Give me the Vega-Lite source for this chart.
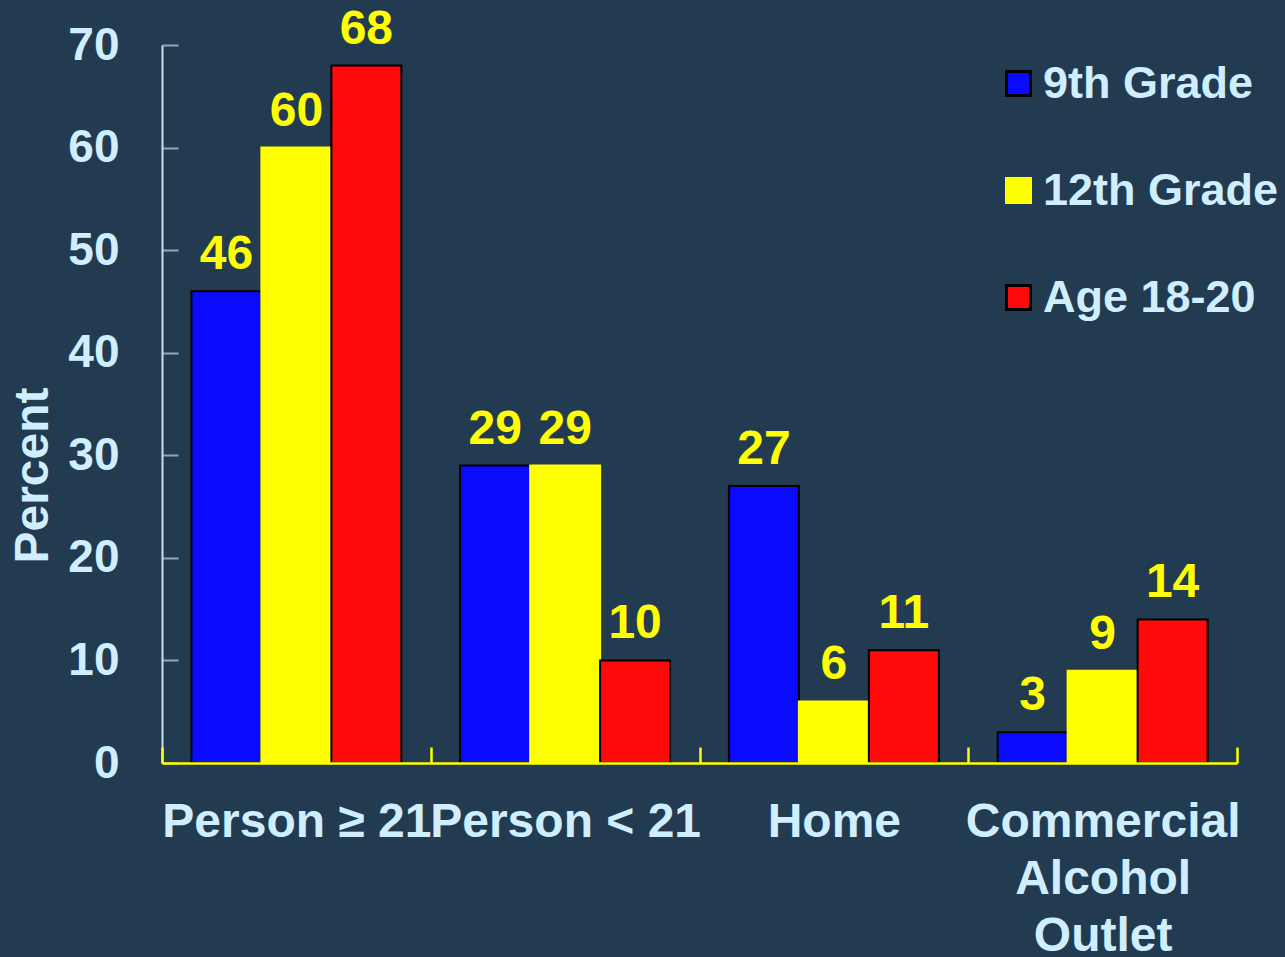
{
  "$schema": "https://vega.github.io/schema/vega-lite/v6.json",
  "width": 1075,
  "height": 718,
  "autosize": {"type": "none"},
  "padding": {"left": 162, "top": 45, "right": 48, "bottom": 194},
  "background": "#233b50",
  "config": {
    "view": {"stroke": null},
    "font": "Liberation Sans",
    "axis": {"grid": false, "labelFont": "Liberation Sans", "titleFont": "Liberation Sans", "labelFontWeight": "bold", "titleFontWeight": "bold", "labelColor": "#cfeeff", "titleColor": "#cfeeff", "labelLimit": 0},
    "legend": {"labelFont": "Liberation Sans", "labelFontWeight": "bold", "labelLimit": 0}
  },
  "data": {
    "values": [
      {"source": "Person ≥ 21", "group": "9th Grade", "pct": 46},
      {"source": "Person ≥ 21", "group": "12th Grade", "pct": 60},
      {"source": "Person ≥ 21", "group": "Age 18-20", "pct": 68},
      {"source": "Person < 21", "group": "9th Grade", "pct": 29},
      {"source": "Person < 21", "group": "12th Grade", "pct": 29},
      {"source": "Person < 21", "group": "Age 18-20", "pct": 10},
      {"source": "Home", "group": "9th Grade", "pct": 27},
      {"source": "Home", "group": "12th Grade", "pct": 6},
      {"source": "Home", "group": "Age 18-20", "pct": 11},
      {"source": "Commercial Alcohol Outlet", "group": "9th Grade", "pct": 3},
      {"source": "Commercial Alcohol Outlet", "group": "12th Grade", "pct": 9},
      {"source": "Commercial Alcohol Outlet", "group": "Age 18-20", "pct": 14}
    ]
  },
  "encoding": {
    "x": {
      "field": "source", "type": "nominal", "sort": null,
      "scale": {"paddingInner": 0, "paddingOuter": 0},
      "axis": {
        "title": null, "labelAngle": 0, "labelFontSize": 48, "labelPadding": 51,
        "labelLineHeight": 57,
        "labelExpr": "datum.value == 'Commercial Alcohol Outlet' ? ['Commercial', 'Alcohol', 'Outlet'] : datum.label",
        "domainColor": "#ffff00", "domainWidth": 2.5,
        "tickColor": "#ffff00", "tickWidth": 2.5, "tickSize": -16, "tickBand": "extent",
        "labelOverlap": false, "labelBound": false, "labelFlush": false, "zindex": 1
      }
    },
    "xOffset": {"field": "group", "type": "nominal", "sort": ["9th Grade", "12th Grade", "Age 18-20"], "scale": {"paddingInner": 0, "paddingOuter": 0.42}},
    "y": {
      "field": "pct", "type": "quantitative",
      "scale": {"domain": [0, 70], "nice": false},
      "axis": {
        "title": "Percent", "titleFontSize": 48, "titleX": -129, "titleY": 430, "titleAngle": -90, "titleBaseline": "middle",
        "values": [0, 10, 20, 30, 40, 50, 60, 70],
        "labelFontSize": 46, "labelPadding": 59,
        "domainColor": "#c8e0ee", "domainWidth": 2,
        "tickColor": "#8ea6b8", "tickWidth": 2, "tickSize": -16
      }
    }
  },
  "layer": [
    {
      "mark": {"type": "bar", "strokeWidth": 2},
      "encoding": {
        "color": {
          "field": "group", "type": "nominal", "sort": ["9th Grade", "12th Grade", "Age 18-20"],
          "scale": {"domain": ["9th Grade", "12th Grade", "Age 18-20"], "range": ["#0a0aff", "#ffff00", "#ff0a0a"]},
          "legend": {
            "title": null, "orient": "none", "legendX": 834, "legendY": 16,
            "labelFontSize": 45, "labelColor": "#cfeeff", "labelOffset": 2,
            "symbolType": "square", "symbolSize": 576, "symbolStrokeWidth": 3,
            "rowPadding": 61, "padding": 0
          }
        },
        "stroke": {
          "field": "group", "type": "nominal", "sort": ["9th Grade", "12th Grade", "Age 18-20"],
          "scale": {"domain": ["9th Grade", "12th Grade", "Age 18-20"], "range": ["#000000", "#ffff00", "#000000"]},
          "legend": {
            "title": null, "orient": "none", "legendX": 834, "legendY": 16,
            "labelFontSize": 45, "labelColor": "#cfeeff", "labelOffset": 2,
            "symbolType": "square", "symbolSize": 576, "symbolStrokeWidth": 3,
            "rowPadding": 61, "padding": 0
          }
        }
      }
    },
    {
      "mark": {"type": "text", "baseline": "bottom", "dy": -12, "fontSize": 48, "fontWeight": "bold", "color": "#ffff00", "font": "Liberation Sans"},
      "encoding": {"text": {"field": "pct", "type": "quantitative"}}
    }
  ]
}
